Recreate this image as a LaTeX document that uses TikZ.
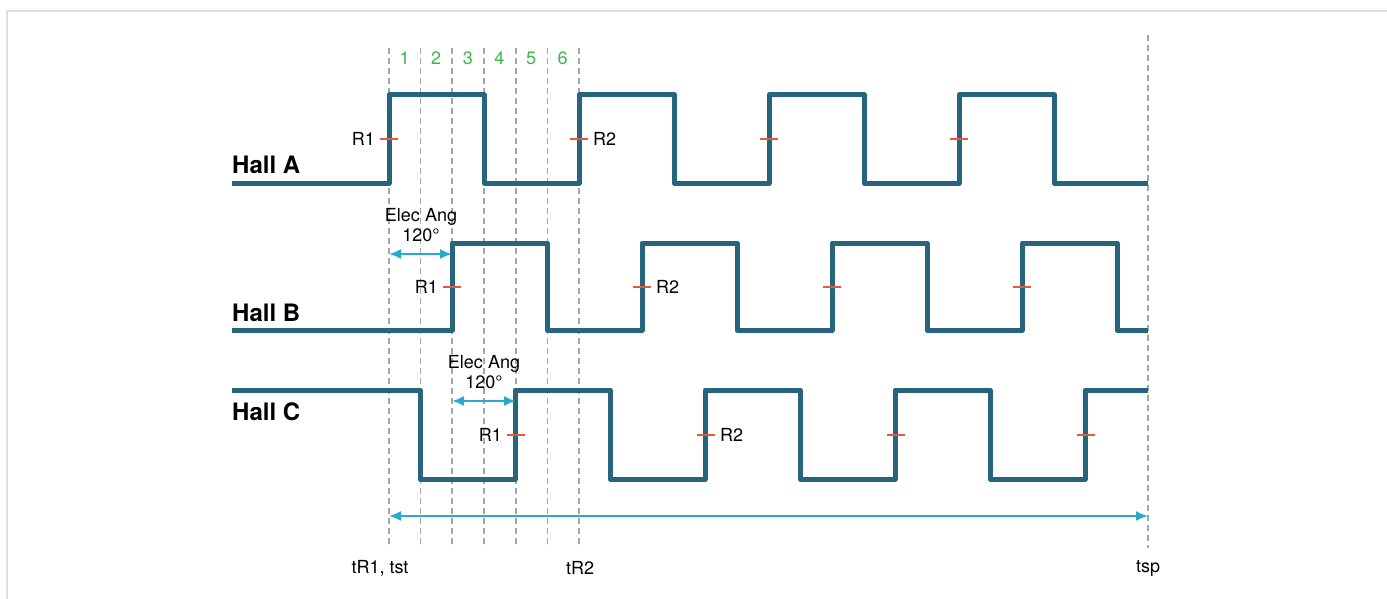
\documentclass[tikz,border=0pt]{standalone}
\usepackage{fontspec}
\setmainfont{TeX Gyre Heros}
\usetikzlibrary{arrows.meta}
\definecolor{sigblue}{HTML}{27657F}
\definecolor{angcyan}{HTML}{2BA9CC}
\definecolor{tickred}{HTML}{E8573A}
\definecolor{stepgreen}{HTML}{3DB84A}
\definecolor{gridgray}{HTML}{A3A7AB}
\tikzset{
  signal/.style={sigblue, line width=5pt, line join=round},
  guide/.style={gridgray, line width=1.4pt, dash pattern=on 6pt off 4pt},
  rtick/.style={tickred, line width=1.6pt},
  span/.style={angcyan, line width=1.9pt, {Latex[length=12pt,width=10pt]}-{Latex[length=12pt,width=10pt]}},
  lbl/.style={font=\fontsize{18}{20}\selectfont, inner sep=1pt},
  hall/.style={font=\fontsize{24}{26}\selectfont\bfseries, anchor=west, inner sep=0pt},
}
\begin{document}
\begin{tikzpicture}[x=1pt, y=-1pt]
        \useasboundingbox (0,0) rectangle (1387,599);
        % frame
        \draw[gray!25, line width=1.5pt] (7,599) -- (7,11) -- (1387,11);
        % guide lines
        \foreach \gx in {389,420.5,452,484,516,547.5,579}
            \draw[guide] (\gx,48) -- (\gx,548);
        \draw[guide] (1148,35) -- (1148,548);
        % step numbers
        \foreach \k in {1,...,6}
            \node[lbl, stepgreen] (step\k) at ({373+31.6*\k},58) {\k};
        % signals
        \draw[signal] (232,183) foreach \k in {0,...,3} { -- ({389+190*\k},183) -- ++(0,-88) -- ++(95,0) -- ++(0,88) } -- (1148,183);
        \draw[signal] (232,330) foreach \k in {0,...,3} { -- ({452+190*\k},330) -- ++(0,-87) -- ++(95,0) -- ++(0,87) } -- (1148,330);
        \draw[signal] (232,390) foreach \k in {0,...,3} { -- ({420+190*\k},390) -- ++(0,89) -- ++(95,0) -- ++(0,-89) } -- (1148,390);
        \node[hall] (hallA) at (232,165) {Hall A};
        \node[hall] (hallB) at (232,313) {Hall B};
        \node[hall] (hallC) at (232,412) {Hall C};
        % R ticks
        \foreach \k in {0,...,3} {
            \draw[rtick] ({380+190*\k},139) -- ++(18,0);
            \draw[rtick] ({443+190*\k},287) -- ++(18,0);
            \draw[rtick] ({507+190*\k},435) -- ++(18,0);
        }
        \node[lbl, anchor=east] (r1A) at (376,139) {R1};
        \node[lbl, anchor=west] (r2A) at (592,139) {R2};
        \node[lbl, anchor=east] (r1B) at (439,287) {R1};
        \node[lbl, anchor=west] (r2B) at (655,287) {R2};
        \node[lbl, anchor=east] (r1C) at (503,435) {R1};
        \node[lbl, anchor=west] (r2C) at (719,435) {R2};
        % electrical angle
        \coordinate (angBl) at (389,254);
        \coordinate (angBr) at (452,254);
        \coordinate (angCl) at (452,401);
        \coordinate (angCr) at (516,401);
        \draw[span] (angBl) -- (angBr);
        \draw[span] (angCl) -- (angCr);
        \node[lbl, align=center, anchor=south] (angB) at (421,243) {Elec Ang\\120°};
        \node[lbl, align=center, anchor=south] (angC) at (484,390) {Elec Ang\\120°};
        % time span
        \coordinate (tL) at (389,516);
        \coordinate (tR) at (1148,516);
        \draw[span] (tL) -- (tR);
        \node[lbl] (tst) at (380,568) {tR1, tst};
        \node[lbl] (tr2) at (580,568) {tR2};
        \node[lbl] (tsp) at (1148,568) {tsp};
    \end{tikzpicture}
\end{document}
